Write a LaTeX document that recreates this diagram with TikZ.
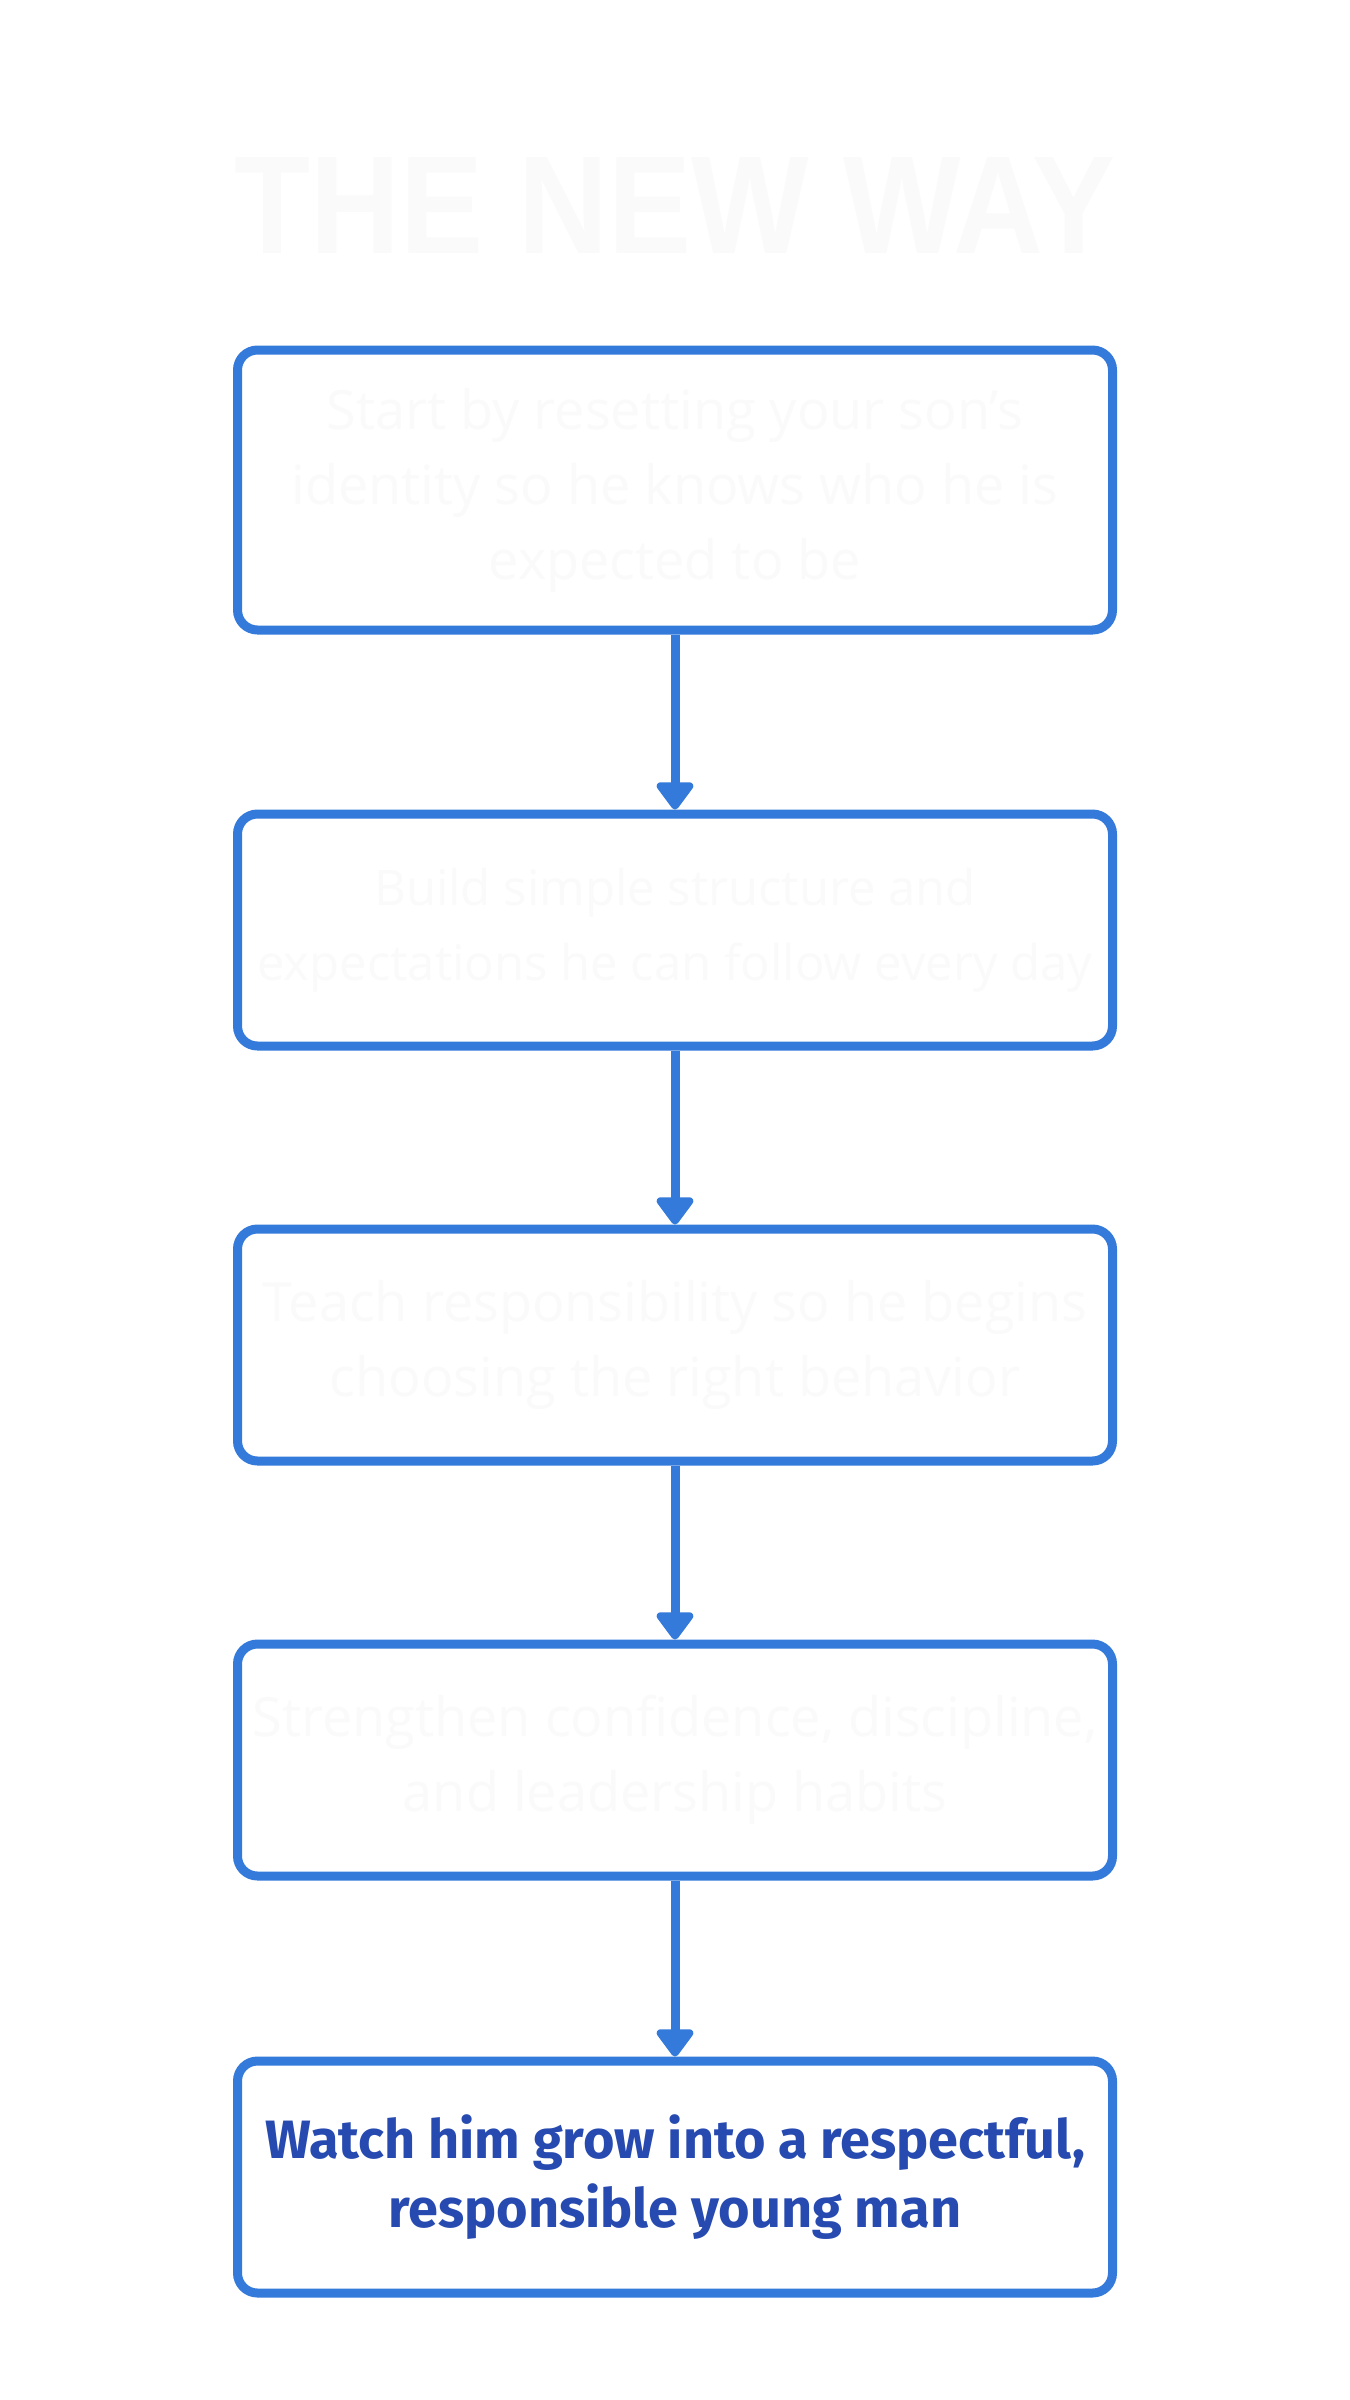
\documentclass[tikz,border=0pt]{standalone}
\usepackage{fontspec}
\setmainfont{Open Sans}
\newfontfamily\finalfont{Fira Sans}
\newfontfamily\titlefont{Liberation Sans}
\usetikzlibrary{arrows.meta}
\definecolor{boxblue}{RGB}{52,122,218}
\definecolor{textblue}{RGB}{38,74,176}
\definecolor{ghost}{RGB}{250,250,250}
\tikzset{
  stepbox/.style={draw=boxblue, line width=4.5pt, rounded corners=10pt, fill=white,
    minimum width=437.5pt, minimum height=116pt, align=center, text=ghost,
    font=\fontsize{27}{37.5}\selectfont, inner sep=0pt},
  finalbox/.style={stepbox, text=textblue, font=\finalfont\bfseries\fontsize{27}{34.5}\selectfont},
  flow/.style={draw=boxblue, line width=4.5pt, -{Triangle[width=21pt,length=15pt,round]}},
}
\begin{document}
\begin{tikzpicture}[x=0.5pt,y=-0.5pt]
\fill[white] (0,0) rectangle (1350,2400);
\useasboundingbox (0,0) rectangle (1350,2400);
\node[text=ghost, inner sep=0pt] (title) at (675,205)
  {\resizebox{440pt}{48pt}{\titlefont\bfseries THE NEW WAY}};
\node[stepbox, minimum height=140pt] (b1) at (675,490)
  {\raisebox{-4pt}{\parbox{430pt}{\centering Start by resetting your son's\\identity so he knows who he is\\expected to be}}};
\node[stepbox, font=\fontsize{24.5}{37.5}\selectfont] (b2) at (675,930)
  {Build simple structure and\\expectations he can follow every day};
\node[stepbox] (b3) at (675,1345)
  {Teach responsibility so he begins\\choosing the right behavior};
\node[stepbox] (b4) at (675,1760)
  {Strengthen confidence, discipline,\\and leadership habits};
\node[finalbox] (b5) at (675,2177)
  {Watch him grow into a respectful,\\responsible young man};
\draw[flow] (b1.south) -- (b2.north);
\draw[flow] (b2.south) -- (b3.north);
\draw[flow] (b3.south) -- (b4.north);
\draw[flow] (b4.south) -- (b5.north);
\end{tikzpicture}
\end{document}
